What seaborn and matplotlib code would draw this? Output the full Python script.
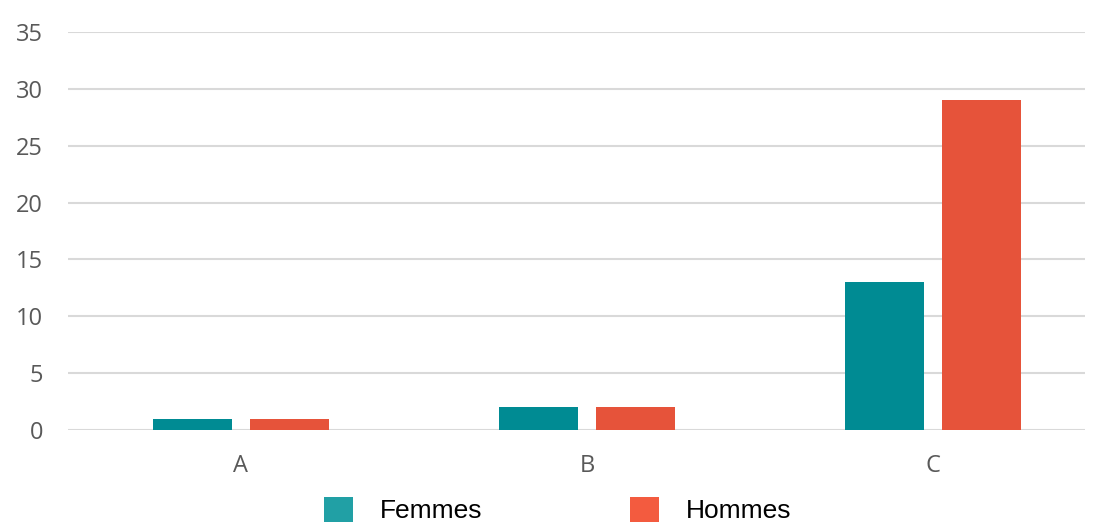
import numpy as np
import pandas as pd
import matplotlib
matplotlib.use("Agg")
import matplotlib.pyplot as plt
import matplotlib.patches as mpatches
import seaborn as sns

# Chart data
categories = ["A", "B", "C"]
femmes = [1, 2, 13]
hommes = [1, 2, 29]
series_names = ["Femmes", "Hommes"]
y_ticks = [0, 5, 10, 15, 20, 25, 30, 35]

bar_colors = ["#008B93", "#E6533A"]
legend_colors = ["#21A0A5", "#F35B3F"]

df = pd.DataFrame({
    "cat": categories * 2,
    "value": femmes + hommes,
    "serie": [series_names[0]] * len(categories) + [series_names[1]] * len(categories),
})

sns.set_theme(style="white")
plt.rcParams["font.family"] = ["Open Sans", "DejaVu Sans"]

fig = plt.figure(figsize=(11, 5.24), dpi=100)
ax = fig.add_axes([68 / 1100, 1 - 430 / 524, 1017 / 1100, 398 / 524])

sns.barplot(data=df, x="cat", y="value", hue="serie", palette=bar_colors,
            saturation=1, width=0.56, gap=0.186, linewidth=0, legend=False, ax=ax)

ax.set_xlim(-0.5, 2.44)
ax.set_ylim(0, 35)
ax.set_yticks(y_ticks)
ax.set_xlabel("")
ax.set_ylabel("")
for s in ax.spines.values():
    s.set_visible(False)
ax.yaxis.grid(True, color="#D9D9D9", linewidth=1.5)
ax.set_axisbelow(True)
ax.tick_params(axis="y", length=0, pad=18, labelsize=17, labelcolor="#595959")
ax.tick_params(axis="x", length=0, pad=17, labelsize=17, labelcolor="#595959")

handles = [mpatches.Patch(facecolor=c, edgecolor="none") for c in legend_colors]
leg = fig.legend(handles, series_names, loc="center", bbox_to_anchor=(0.507, 0.027),
                 ncol=2, frameon=False, handlelength=1.1, handleheight=1.1,
                 handletextpad=1.0, columnspacing=5.6,
                 prop={"family": "Liberation Sans", "size": 19})
for t in leg.get_texts():
    t.set_color("black")

fig.savefig("out.png", dpi=100)
